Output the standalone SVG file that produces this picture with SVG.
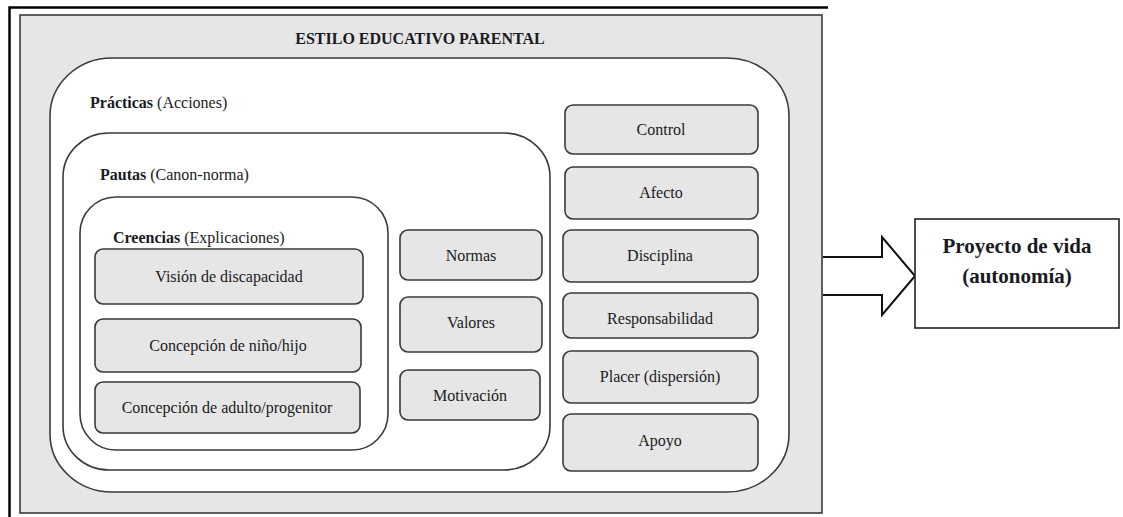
<svg xmlns="http://www.w3.org/2000/svg" width="1123" height="517" viewBox="0 0 1123 517">
<style>
text{font-family:'Liberation Serif','DejaVu Serif',serif;fill:#1a1a22;font-size:16px}
.b{font-weight:bold}
.c{text-anchor:middle}
.big{font-size:21px}
.box{fill:#e6e6e6;stroke:#3a3a3a;stroke-width:1.6}
.zone{fill:#fff;stroke:#3a3a3a;stroke-width:1.6}
</style>
<rect width="1123" height="517" fill="#fff"/>
<path d="M9.5 517 V7.5 H828" fill="none" stroke="#000" stroke-width="2.5"/>
<g id="estilo">
<rect x="20" y="15" width="802" height="498" fill="#e6e6e6" stroke="#3a3a3a" stroke-width="1.6"/>
<text class="b c" x="420" y="44">ESTILO EDUCATIVO PARENTAL</text>
</g>
<g id="practicas">
<rect class="zone" x="50" y="58" width="739" height="434" rx="62" ry="58"/>
<text x="90" y="108"><tspan class="b">Prácticas</tspan> (Acciones)</text>
</g>
<g id="pautas">
<rect class="zone" x="63" y="133" width="487" height="337" rx="46" ry="44"/>
<text x="100" y="180"><tspan class="b">Pautas</tspan> (Canon-norma)</text>
</g>
<g id="creencias">
<rect class="zone" x="80" y="197" width="308" height="253" rx="36" ry="36"/>
<text x="113" y="243"><tspan class="b">Creencias</tspan> (Explicaciones)</text>
</g>
<g id="vision"><rect class="box" x="95" y="249" width="268" height="55" rx="8"/><text class="c" x="229" y="282">Visión de discapacidad</text></g>
<g id="nino"><rect class="box" x="95" y="319" width="266" height="53" rx="8"/><text class="c" x="228" y="351">Concepción de niño/hijo</text></g>
<g id="adulto"><rect class="box" x="95" y="382" width="265" height="51" rx="8"/><text class="c" x="227" y="413">Concepción de adulto/progenitor</text></g>
<g id="normas"><rect class="box" x="400" y="230" width="142" height="50" rx="8"/><text class="c" x="471" y="261">Normas</text></g>
<g id="valores"><rect class="box" x="400" y="297" width="142" height="55" rx="8"/><text class="c" x="471" y="328">Valores</text></g>
<g id="motivacion"><rect class="box" x="400" y="370" width="140" height="50" rx="8"/><text class="c" x="470" y="401">Motivación</text></g>
<g id="control"><rect class="box" x="565" y="105" width="193" height="49" rx="8"/><text class="c" x="661" y="135">Control</text></g>
<g id="afecto"><rect class="box" x="565" y="167" width="193" height="52" rx="8"/><text class="c" x="661" y="198">Afecto</text></g>
<g id="disciplina"><rect class="box" x="563" y="230" width="195" height="52" rx="8"/><text class="c" x="660" y="261">Disciplina</text></g>
<g id="responsabilidad"><rect class="box" x="563" y="293" width="195" height="45" rx="8"/><text class="c" x="660" y="324">Responsabilidad</text></g>
<g id="placer"><rect class="box" x="563" y="351" width="195" height="52" rx="8"/><text class="c" x="660" y="382">Placer (dispersión)</text></g>
<g id="apoyo"><rect class="box" x="563" y="414" width="195" height="57" rx="8"/><text class="c" x="660" y="446">Apoyo</text></g>
<g id="connectors">
<path d="M823 257 H882 V237 L915 276 L882 315 V295 H823" fill="#fff" stroke="#111" stroke-width="2"/>
</g>
<g id="proyecto">
<rect x="915" y="219" width="204" height="109" fill="#fff" stroke="#222" stroke-width="1.6"/>
<text class="b c big" x="1017" y="253">Proyecto de vida</text>
<text class="b c big" x="1017" y="283">(autonomía)</text>
</g>
</svg>
